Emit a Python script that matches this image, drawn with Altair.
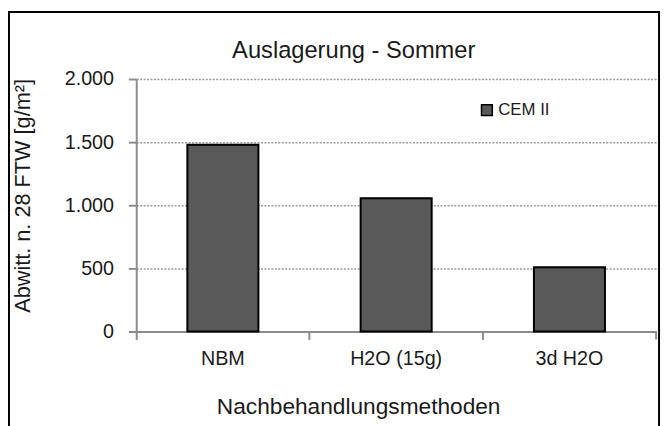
import altair as alt
import pandas as pd

categories = ["NBM", "H2O (15g)", "3d H2O"]
values = [1480, 1055, 510]
series = ["CEM II", "CEM II", "CEM II"]
y_ticks = [0, 500, 1000, 1500, 2000]

df = pd.DataFrame({"cat": categories, "val": values, "series": series})

FONT = "Liberation Sans"
W, H = 527, 256

base = alt.Chart(df)

bars = base.mark_bar(
    width=alt.RelativeBandSize(0.41), stroke="black", strokeWidth=2
).encode(
    x=alt.X(
        "cat:N",
        sort=categories,
        scale=alt.Scale(paddingInner=0, paddingOuter=0),
        axis=alt.Axis(
            title="Nachbehandlungsmethoden",
            labelAngle=0,
            bandPosition=0,
            labelFontSize=20,
            labelColor="#1a1a1a",
            labelFont=FONT,
            labelPadding=9,
            tickSize=8,
            tickColor="#8c8c8c",
            tickWidth=2,
            domainColor="#8c8c8c",
            domainWidth=2,
            titleFont=FONT,
            titleFontSize=23,
            titleFontWeight="normal",
            titleColor="#1a1a1a",
            titleX=225,
            titleY=76,
            titleBaseline="middle",
            titleAlign="center",
        ),
    ),
    y=alt.Y(
        "val:Q",
        scale=alt.Scale(domain=[0, 2000], nice=False),
        axis=alt.Axis(
            title="Abwitt. n. 28 FTW [g/m²]",
            values=y_ticks,
            labelExpr="replace(format(datum.value, ',d'), ',', '.')",
            labelFontSize=20,
            labelColor="#1a1a1a",
            labelFont=FONT,
            labelPadding=15,
            tickSize=8,
            tickColor="#8c8c8c",
            tickWidth=2,
            domainColor="#8c8c8c",
            domainWidth=2,
            grid=True,
            gridColor="#9a9a9a",
            gridDash=[2, 1.5],
            gridWidth=1.5,
            titleFont=FONT,
            titleFontSize=22,
            titleFontWeight="normal",
            titleColor="#1a1a1a",
            titleAngle=270,
            titleX=-115,
            titleY=118,
            titleAlign="center",
            titleBaseline="middle",
        ),
    ),
    color=alt.Color(
        "series:N",
        scale=alt.Scale(domain=["CEM II"], range=["#595959"]),
        legend=alt.Legend(
            title=None,
            orient="none",
            legendX=347,
            legendY=23,
            symbolType="square",
            symbolSize=120,
            symbolStrokeColor="black",
            symbolStrokeWidth=1.5,
            labelFont=FONT,
            labelFontSize=17,
            labelColor="#1a1a1a",
            labelOffset=3,
        ),
    ),
)

frame_df = pd.DataFrame({"k": [0]})
frame = alt.Chart(frame_df).mark_rect(
    filled=False, stroke="black", strokeWidth=2, clip=False
).encode(
    x=alt.value(-129),
    x2=alt.value(530),
    y=alt.value(-68),
    y2=alt.value(200 + H),
)

end_tick = alt.Chart(frame_df).mark_rule(color="#8c8c8c", strokeWidth=2).encode(
    x=alt.value(W), y=alt.value(H), y2=alt.value(H + 8)
)

chart = (
    alt.layer(bars, end_tick, frame)
    .properties(
        width=W,
        height=H,
        autosize=alt.AutoSizeParams(type="none"),
        padding={"left": 130, "top": 69, "right": 6, "bottom": 110},
        title=alt.TitleParams(
            "Auslagerung - Sommer",
            font=FONT,
            fontSize=24,
            fontWeight="normal",
            color="#1a1a1a",
            anchor="middle",
            frame="group",
            dx=-43,
            offset=-53,
        ),
        background="white",
    )
    .configure_view(stroke=None)
)

chart.save("out.html", embed_options={"renderer": "svg", "actions": False})
